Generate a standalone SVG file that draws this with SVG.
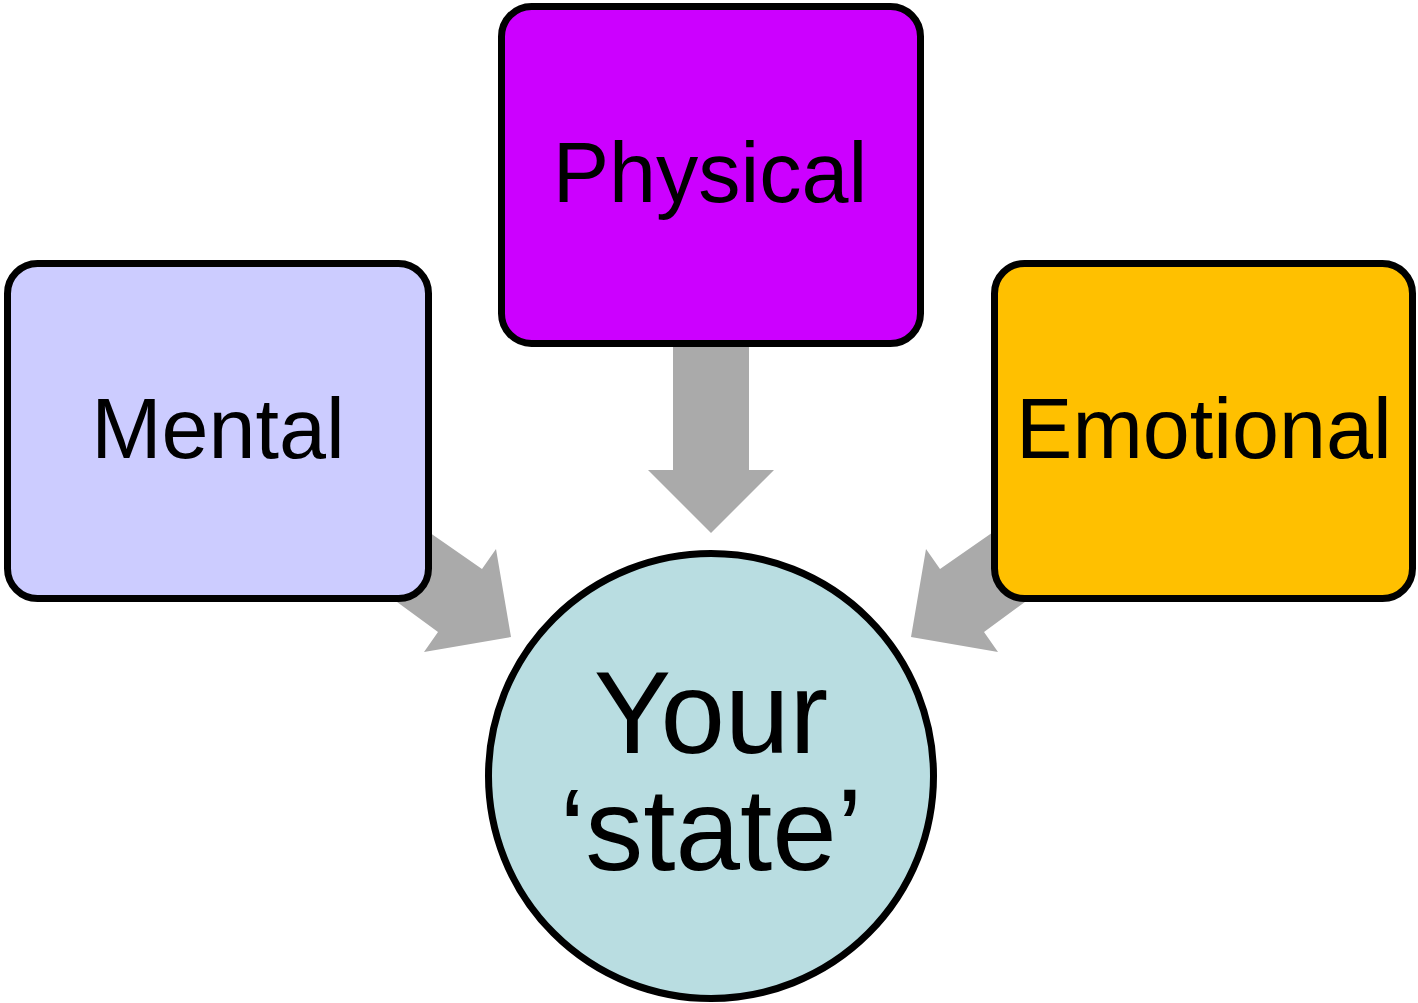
<svg xmlns="http://www.w3.org/2000/svg" width="1418" height="1003" viewBox="0 0 1418 1003">
<style>
.box{stroke:#000;stroke-width:7}
.arrow{fill:#AAAAAA;stroke:none}
.lbl{font-family:"Liberation Sans",Arial,sans-serif;font-size:84.5px;fill:#000;text-anchor:middle}
.big{font-family:"Liberation Sans",Arial,sans-serif;font-size:116px;fill:#000;text-anchor:middle}
</style>
<rect width="1418" height="1003" fill="#fff"/>
<g id="connectors">
<polygon class="arrow" points="673,340 749,340 749,470 774,470 711,533 648,470 673,470"/>
<polygon class="arrow" points="400,512 482,569 496,549 511,637 424,652 438,632 367,580"/>
<polygon class="arrow" points="1022,512 940,569 926,549 911,637 998,652 984,632 1055,580"/>
</g>
<g id="physical">
<rect class="box" x="501.5" y="6.5" width="419" height="337" rx="30" fill="#CC00FF"/>
<text class="lbl" x="710" y="202">Physical</text>
</g>
<g id="mental">
<rect class="box" x="7.5" y="263.5" width="421" height="335" rx="30" fill="#CCCCFF"/>
<text class="lbl" x="218" y="458">Mental</text>
</g>
<g id="emotional">
<rect class="box" x="994.5" y="263.5" width="418" height="335" rx="30" fill="#FFC000"/>
<text class="lbl" x="1204" y="458">Emotional</text>
</g>
<g id="state">
<circle class="box" cx="711" cy="776" r="222.5" fill="#B9DDE1"/>
<text class="big"><tspan x="711" y="753">Your</tspan><tspan x="711" y="870">‘state’</tspan></text>
</g>
</svg>
